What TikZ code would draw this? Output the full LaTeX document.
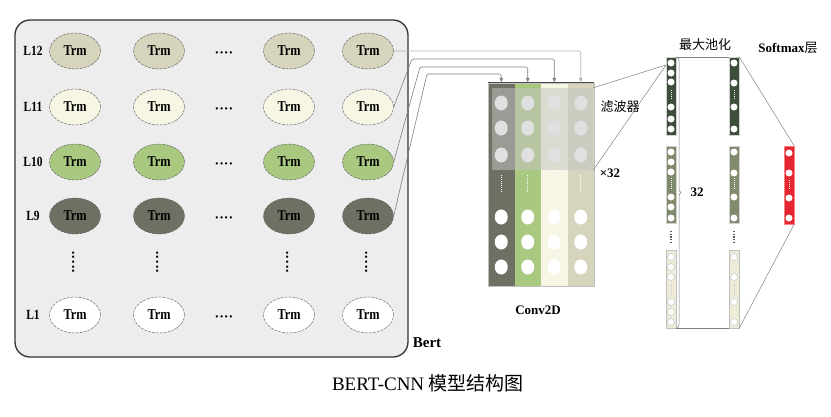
\documentclass[tikz,border=0pt]{standalone}
\usepackage{fontspec}
\setmainfont{Liberation Serif}
\newfontfamily\condfont{Liberation Serif}[FakeStretch=0.82]
\newfontfamily\cjk{Noto Sans CJK SC}
\usetikzlibrary{positioning,shapes,decorations.pathreplacing,arrows.meta}

\definecolor{lTwelve}{HTML}{D6D4BC}
\definecolor{lEleven}{HTML}{F7F5E3}
\definecolor{lTen}{HTML}{A9C880}
\definecolor{lNine}{HTML}{6C7163}
\definecolor{bertbg}{HTML}{EDEDED}
\definecolor{filtcol}{gray}{0.77}
\definecolor{poolDark}{HTML}{3D4E3A}
\definecolor{poolGreen}{HTML}{7F8B6C}
\definecolor{poolCream}{HTML}{EFEBD9}
\definecolor{smRed}{HTML}{E3262F}

\tikzset{
  bertbox/.style={rectangle, rounded corners=15pt, draw=black!80, line width=1.3pt, fill=bertbg, minimum width=393pt, minimum height=337pt, inner sep=0pt},
  trm/.style={ellipse, draw=gray!70!black, dash pattern=on 3pt off 1pt, line width=0.4pt, minimum width=51pt, minimum height=36pt, inner sep=0pt, font=\condfont\bfseries\fontsize{15}{17}\selectfont},
  layer/.style={font=\condfont\bfseries\fontsize{14}{16}\selectfont, inner sep=0pt},
  hdots/.style={font=\bfseries\fontsize{14}{16}\selectfont, inner sep=0pt},
  convcol/.style={rectangle, inner sep=0pt, minimum width=26.5pt, minimum height=203pt},
  cell/.style={ellipse, fill=white, inner sep=0pt, minimum width=13pt, minimum height=15pt},
  filterbox/.style={rectangle, fill=filtcol, fill opacity=0.52, inner sep=0pt, minimum width=101pt, minimum height=82pt},
  poolcol/.style={rectangle, inner sep=0pt, minimum width=10pt, draw=gray!35, line width=0.4pt},
  dot/.style={circle, fill=white, inner sep=0pt, minimum size=7pt},
  feed/.style={draw=gray, line width=0.6pt, rounded corners=1.5pt, -{Latex[length=5pt,width=4pt]}},
  link/.style={draw=gray, line width=0.5pt},
  boldlab/.style={font=\bfseries\fontsize{13}{15}\selectfont, inner sep=0pt},
  cjklab/.style={font=\cjk\fontsize{13}{15}\selectfont, inner sep=0pt}
}

\begin{document}
\begin{tikzpicture}[x=1pt,y=-1pt]
\useasboundingbox (0,0) rectangle (831,416);

% Bert block
\node[bertbox] (bert) at (211.5,188.5) {};
\foreach \r/\y/\c in {12/51/lTwelve, 11/107/lEleven, 10/162/lTen, 9/216/lNine, 1/315/white} {
  \node[layer] (l\r) at (33,\y) {L\r};
  \foreach \k/\x in {1/75,2/159,3/289,4/368}
    \node[trm, fill=\c] (t\r-\k) at (\x,\y) {Trm};
  \node[hdots] (h\r) at (224,\y+4) {····};
}
\foreach \k/\x in {1/75,2/159,3/289,4/368}
  \node[hdots, rotate=90] (v\k) at (\x,262) {·····};
\node[font=\bfseries\fontsize{15}{17}\selectfont] (bertlab) at (427,343) {Bert};

% Conv2D block
\foreach \k/\x/\c in {1/501.25/lNine, 2/527.75/lTen, 3/554.25/lEleven, 4/580.75/lTwelve} {
  \node[convcol, fill=\c] (cv\k) at (\x,184.5) {};
  \foreach \y in {103,128,155,217,242,267}
    \node[cell] (c\k-\y) at (\x,\y) {};
  \draw[white, line width=0.8pt, dash pattern=on 1pt off 1pt] (\x,175) -- (\x,193);
}
\draw[gray!50, line width=0.4pt] (cv1.north west) rectangle (cv4.south east);
\draw[gray!60!black, line width=0.9pt] (cv1.north west) -- (cv4.north east);
\node[filterbox] (filt) at (542.5,129) {};
\node[cjklab] (filtlab) at (620,107) {滤波器};
\node[boldlab] (times) at (610,173) {×32};
\node[boldlab] (convlab) at (538,310) {Conv2D};

% feeds from Bert to Conv2D
\coordinate (k3) at (412,59);
\coordinate (k2) at (420,67);
\coordinate (k1) at (427,74);
\draw[feed, draw=gray!60] (t12-4.east) -| (cv4.north);
\draw[feed] (t11-4.east) -- (k3) -| (cv3.north);
\draw[feed] (t10-4.east) -- (k2) -| (cv2.north);
\draw[feed] (t9-4.east) -- (k1) -| (cv1.north);

% max pooling
\node[poolcol, fill=poolDark] (p1a) at (671,96) [minimum height=78pt] {};
\node[poolcol, fill=poolGreen] (p1b) at (671,184.5) [minimum height=77pt] {};
\node[poolcol, fill=poolCream, draw=gray!50] (p1c) at (671,289) [minimum height=78pt] {};
\node[poolcol, fill=poolDark] (p2a) at (734,96) [minimum height=78pt] {};
\node[poolcol, fill=poolGreen] (p2b) at (734,184.5) [minimum height=77pt] {};
\node[poolcol, fill=poolCream, draw=gray!50] (p2c) at (734,289) [minimum height=78pt] {};
\foreach \y in {63,73,82,107,119,129,152,162,172,197,207,218}
  \node[dot] (pa-\y) at (671,\y) {};
\foreach \y in {257,267,277,302,312,322}
  \node[dot, draw=gray!60, line width=0.3pt] (pa-\y) at (671,\y) {};
\foreach \y in {63,83,107,129,152,173,197,218}
  \node[dot] (pb-\y) at (734,\y) {};
\foreach \y in {257,277,302,322}
  \node[dot, draw=gray!60, line width=0.3pt] (pb-\y) at (734,\y) {};
\foreach \x in {671,734} {
  \draw[white, line width=0.8pt, dash pattern=on 1pt off 1pt] (\x,90) -- (\x,100);
  \draw[white, line width=0.8pt, dash pattern=on 1pt off 1pt] (\x,178) -- (\x,189);
  \draw[gray!40, line width=0.8pt, dash pattern=on 1pt off 1pt] (\x,284) -- (\x,295);
  \draw[gray!70!black, line width=1.2pt, dash pattern=on 1.2pt off 1.5pt] (\x,231) -- (\x,244);
}
\node[cjklab] (poollab) at (705,45) {最大池化};

% links from filter to pooling
\coordinate (pin) at (666,65);
\draw[link] (filt.north east) -- (pin);
\draw[link] (filt.south east) -- (pin);
\draw[link] (p1a.north east) -- (p2a.north west);
\draw[link] (p1c.south east) -- (p2c.south west);
\draw[link, decorate, decoration={brace, amplitude=4pt}] (677,57) -- (677,328);
\node[boldlab] (num) at (697,192) {32};

% softmax
\node[poolcol, fill=smRed, draw=red!50] (sm) at (789,185) [minimum height=78pt] {};
\foreach \y in {153,173,198,218}
  \node[dot] (s-\y) at (789,\y) {};
\draw[white, line width=0.8pt, dash pattern=on 1pt off 1pt] (789,180) -- (789,190);
\draw[link] (p2a.north east) -- (sm.north east);
\draw[link] (p2c.south east) -- (sm.south east);
\node[boldlab] (smlab) at (788,48) {Softmax{\cjk\mdseries 层}};

% caption
\node[font=\fontsize{19}{22}\selectfont] (cap) at (428,383) {BERT-CNN {\cjk 模型结构图}};
\end{tikzpicture}
\end{document}
